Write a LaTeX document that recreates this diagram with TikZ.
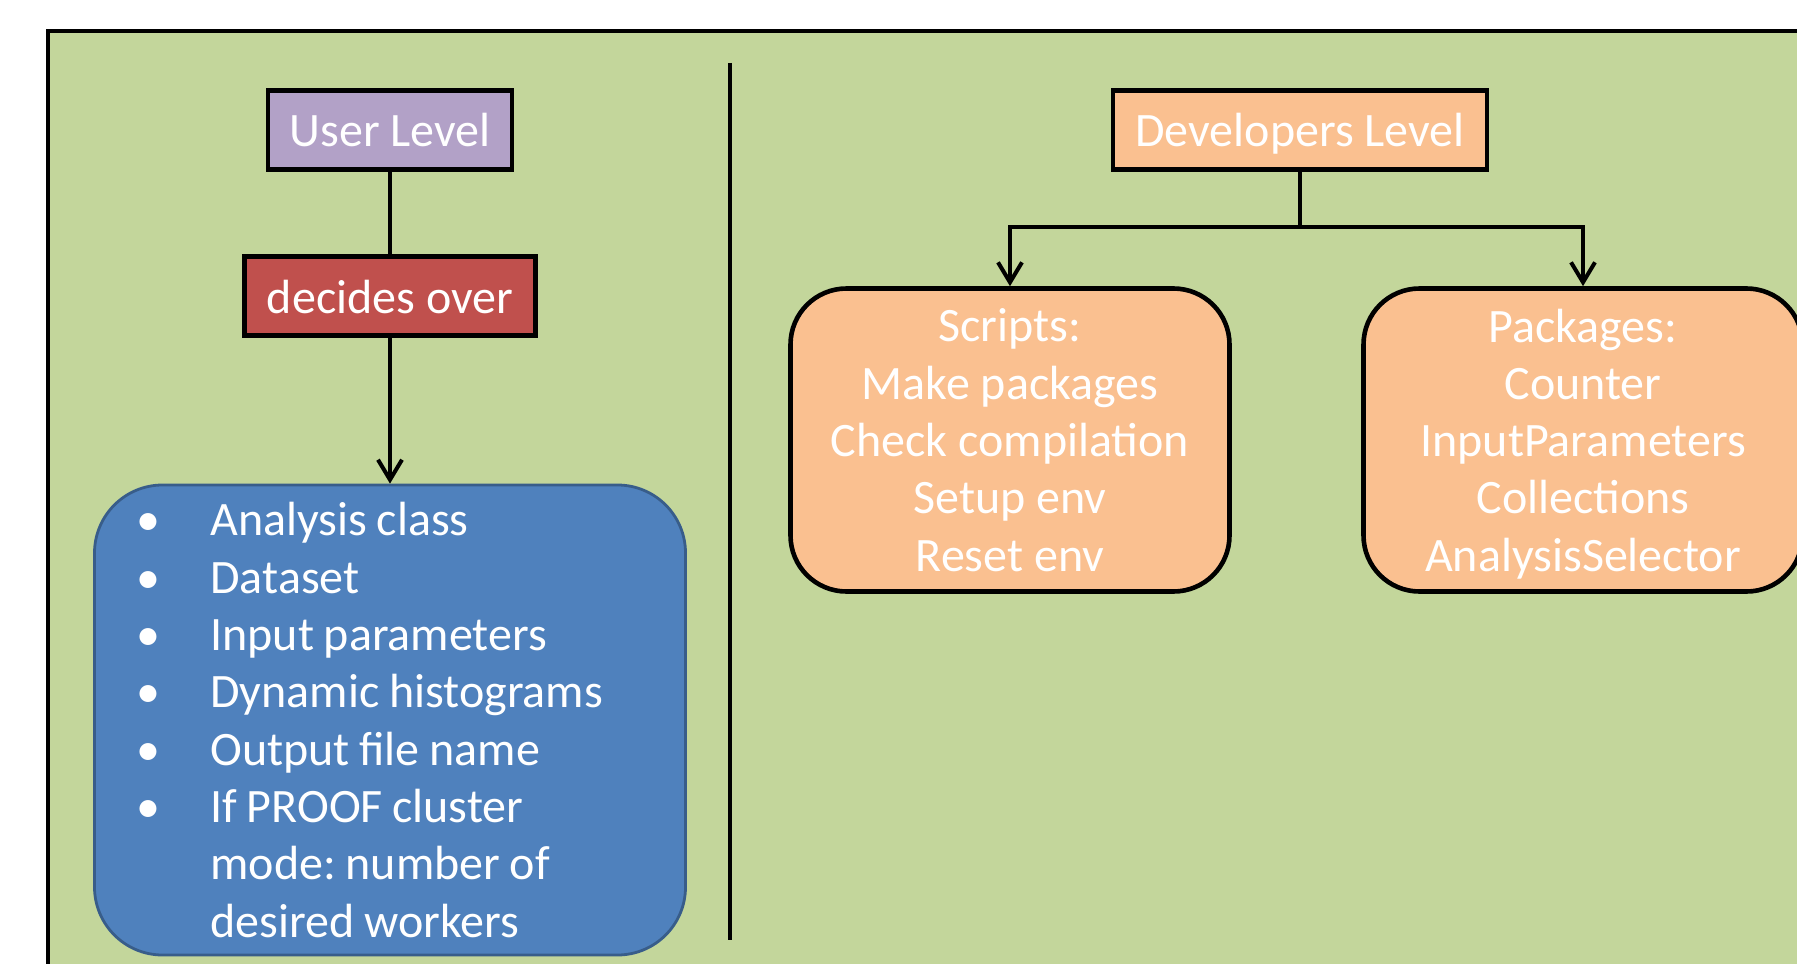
\documentclass[tikz,border=0pt]{standalone}
\usepackage{fontspec}
\setmainfont{Carlito}
\usepackage{xcolor}
\usepackage{tikz}
\usetikzlibrary{arrows.meta,positioning}
\definecolor{bggreen}{HTML}{C3D69B}
\definecolor{lavender}{HTML}{B2A1C7}
\definecolor{decred}{HTML}{C0504D}
\definecolor{itemblue}{HTML}{4F81BD}
\definecolor{itemline}{HTML}{385D8A}
\definecolor{peach}{HTML}{FAC090}
\frenchspacing

\begin{document}
\begin{tikzpicture}[x=0.5pt, y=-0.5pt,
  every node/.style={text=white, inner sep=0pt, align=center, font={\fontsize{24}{28.65}\selectfont}},
  level/.style={draw, line width=2.3pt, minimum height=39.5pt, text height=18pt, text depth=1pt},
  rbox/.style={draw, line width=2.3pt, rounded corners=28pt, fill=peach, minimum width=219.5pt, minimum height=151.5pt, text depth=0pt},
  arrow/.style={-{Straight Barb[length=10pt,width=12pt,line width=2pt]}, line width=2pt}
]
  \useasboundingbox (0,0) rectangle (1797,963);
  \clip (0,0) rectangle (1797,963);
  \draw[fill=bggreen, line width=2pt] (48,31) rectangle (1900,1100);
  \coordinate (divtop) at (730,63);
  \coordinate (divbot) at (730,940);
  \draw[line width=2pt] (divtop) -- (divbot);

  % user side
  \node[level, fill=lavender, minimum width=122pt] (user) at (390,130) {User Level};
  \node[level, fill=decred, minimum width=145.5pt] (decides) at (390,296) {decides over};
  \node[draw=itemline, line width=1.4pt, fill=itemblue, rounded corners=34pt,
        minimum width=295.5pt, minimum height=235pt, text width=253.5pt, inner xsep=21pt, align=left]
        (params) at (390,720)
        {\spaceskip=0.2em\makebox[37pt][l]{\textbullet}Analysis class\\
         \makebox[37pt][l]{\textbullet}Dataset\\
         \makebox[37pt][l]{\textbullet}Input parameters\\
         \makebox[37pt][l]{\textbullet}Dynamic histograms\\
         \makebox[37pt][l]{\textbullet}Output file name\\
         \makebox[37pt][l]{\textbullet}If PROOF cluster\\
         \hspace*{37pt}mode: number of\\
         \hspace*{37pt}desired workers};

  % developer side
  \node[level, fill=peach, minimum width=187pt] (dev) at (1300,130) {Developers Level};
  \node[rbox] (scripts) at (1010,440) {Scripts:\\Make packages\\Check compilation\\Setup env\\Reset env};
  \node[rbox] (packages) at (1583,440) {Packages:\\Counter\\InputParameters\\Collections\\AnalysisSelector};
  \coordinate (branch) at (1300,227);

  \draw[line width=2pt] (user) -- (decides);
  \draw[arrow] (decides) -- (params);
  \draw[line width=2pt] (dev) -- (branch);
  \draw[arrow] (branch) -| (scripts);
  \draw[arrow] (branch) -| (packages);
\end{tikzpicture}
\end{document}
